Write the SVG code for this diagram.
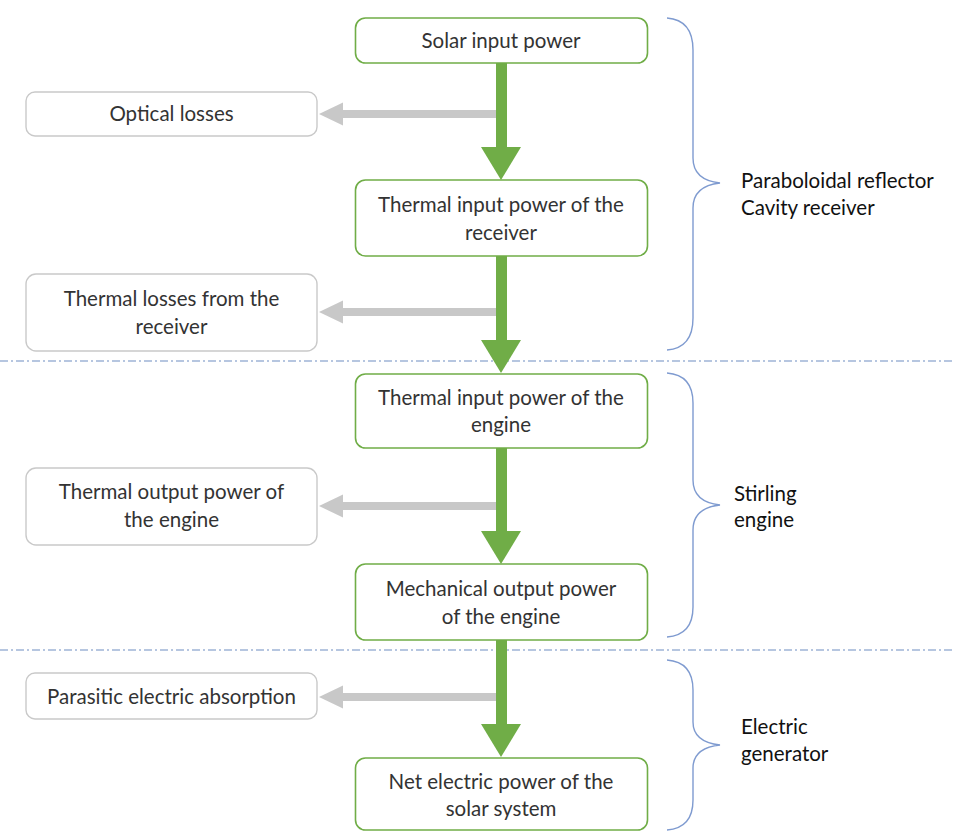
<svg xmlns="http://www.w3.org/2000/svg" width="953" height="832" viewBox="0 0 953 832">
<defs>
<style>
.gbox{fill:#fff;stroke:#70ad47;stroke-width:1.6}
.lbox{fill:#fff;stroke:#c9c9c9;stroke-width:1.4}
.t{font-family:Lato,"Open Sans","Liberation Sans",sans-serif;font-size:20.5px;fill:#333;text-anchor:middle}
.s{font-family:Lato,"Open Sans","Liberation Sans",sans-serif;font-size:20.5px;fill:#111}
.brace{fill:none;stroke:#7f9bd0;stroke-width:1.4}
.dash{stroke:#9fb4d6;stroke-width:1.3;stroke-dasharray:8 3 2 3}
.gshaft{fill:#70ad47}
.gray{fill:#c8c8c8}
</style>
</defs>
<rect width="953" height="832" fill="#fff"/>
<g id="separators">
<line class="dash" x1="0" y1="361" x2="953" y2="361"/>
<line class="dash" x1="0" y1="650" x2="953" y2="650"/>
</g>
<g id="connectors">
<rect class="gray" x="340" y="110" width="158" height="8"/>
<polygon class="gray" points="319,114 343,102.5 343,125.5"/>
<rect class="gray" x="340" y="308" width="158" height="8"/>
<polygon class="gray" points="319,312 343,300.5 343,323.5"/>
<rect class="gray" x="340" y="502" width="158" height="8"/>
<polygon class="gray" points="319,506 343,494.5 343,517.5"/>
<rect class="gray" x="340" y="693" width="158" height="8"/>
<polygon class="gray" points="319,697 343,685.5 343,708.5"/>
<rect class="gshaft" x="496" y="63" width="11" height="86"/>
<polygon class="gshaft" points="481,147 521,147 501,180"/>
<rect class="gshaft" x="496" y="256" width="11" height="86"/>
<polygon class="gshaft" points="481,340 521,340 501,373"/>
<rect class="gshaft" x="496" y="448" width="11" height="86"/>
<polygon class="gshaft" points="481,531 521,531 501,564"/>
<rect class="gshaft" x="496" y="640" width="11" height="86"/>
<polygon class="gshaft" points="481,724 521,724 501,757"/>
</g>
<g id="n_solar">
<rect class="gbox" x="355.5" y="18" width="292" height="45" rx="10"/>
<text class="t" x="501" y="48">Solar input power</text>
</g>
<g id="n_optical">
<rect class="lbox" x="26" y="92" width="291" height="44" rx="9"/>
<text class="t" x="171.5" y="121">Optical losses</text>
</g>
<g id="n_thermal_recv">
<rect class="gbox" x="355.5" y="180" width="292" height="76" rx="10"/>
<text class="t" x="501" y="212">Thermal input power of the</text>
<text class="t" x="501" y="240">receiver</text>
</g>
<g id="n_thermal_losses">
<rect class="lbox" x="26" y="274" width="291" height="77" rx="10"/>
<text class="t" x="171.5" y="306">Thermal losses from the</text>
<text class="t" x="171.5" y="334">receiver</text>
</g>
<g id="n_thermal_engine">
<rect class="gbox" x="355.5" y="374" width="292" height="74" rx="10"/>
<text class="t" x="501" y="405">Thermal input power of the</text>
<text class="t" x="501" y="432">engine</text>
</g>
<g id="n_thermal_out">
<rect class="lbox" x="26" y="468" width="291" height="77" rx="10"/>
<text class="t" x="171.5" y="499">Thermal output power of</text>
<text class="t" x="171.5" y="527">the engine</text>
</g>
<g id="n_mechanical">
<rect class="gbox" x="355.5" y="564" width="292" height="76" rx="10"/>
<text class="t" x="501" y="596">Mechanical output power</text>
<text class="t" x="501" y="624">of the engine</text>
</g>
<g id="n_parasitic">
<rect class="lbox" x="26" y="673" width="291" height="46" rx="9"/>
<text class="t" x="171.5" y="704">Parasitic electric absorption</text>
</g>
<g id="n_net">
<rect class="gbox" x="355.5" y="758" width="292" height="72" rx="10"/>
<text class="t" x="501" y="789">Net electric power of the</text>
<text class="t" x="501" y="816">solar system</text>
</g>
<g id="braces">
<path class="brace" d="M667,18 Q693,20 693,50 L693,158 Q693,180 720,183 Q693,186 693,208 L693,318 Q693,348 667,350"/>
<path class="brace" d="M667,373 Q693,375 693,403 L693,480 Q693,502 720,505 Q693,508 693,530 L693,607 Q693,635 667,637"/>
<path class="brace" d="M667,660 Q693,662 693,690 L693,722 Q693,742 720,745 Q693,748 693,768 L693,800 Q693,828 667,830"/>
</g>
<g id="labels">
<text class="s" x="741" y="188">Paraboloidal reflector</text>
<text class="s" x="741" y="215">Cavity receiver</text>
<text class="s" x="734" y="501">Stirling</text>
<text class="s" x="734" y="527">engine</text>
<text class="s" x="741" y="734">Electric</text>
<text class="s" x="741" y="761">generator</text>
</g>
</svg>
